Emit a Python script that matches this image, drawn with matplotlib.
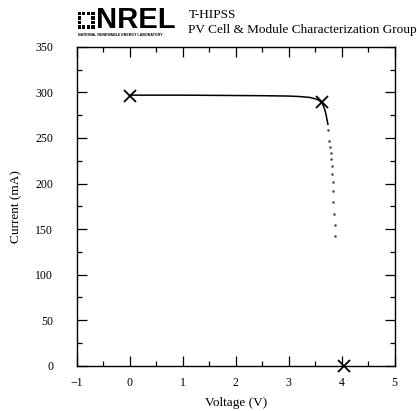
import matplotlib.pyplot as plt
from matplotlib.ticker import MultipleLocator
from matplotlib.patches import Rectangle

# I-V curve (dense part, drawn as a line)
curve_v = [0.0, 0.5, 1.0, 1.5, 2.0, 2.5, 3.0, 3.2, 3.4, 3.5, 3.55, 3.6, 3.64, 3.67, 3.70, 3.72, 3.74]
curve_i = [297, 297, 297, 296.8, 296.6, 296.4, 296, 295.5, 294.5, 293, 292, 290, 287, 283, 277, 271, 265]

# sparse tail of measured points
tail_v = [3.75, 3.76, 3.77, 3.79, 3.80, 3.81, 3.82, 3.83, 3.84, 3.84, 3.85, 3.87, 3.88]
tail_i = [259, 247, 240, 233, 227, 219, 211, 202, 192, 180, 167, 155, 142]

# Isc, Pmax, Voc
key_v = [0.0, 3.62, 4.04]
key_i = [296, 289, 0]

serif = ["Liberation Serif", "DejaVu Serif"]

fig = plt.figure(figsize=(4.17, 4.11), dpi=100)
ax = fig.add_axes([0.184, 0.110, 0.7625, 0.776])

ax.plot(curve_v, curve_i, color="black", lw=1.1)
ax.plot(tail_v, tail_i, ls="none", marker=".", ms=1.8, color="#555555")
ax.plot(key_v, key_i, ls="none", marker="x", ms=9, mew=1.3, color="black", clip_on=False)

ax.set_xlim(-1, 5)
ax.set_ylim(0, 350)
ax.xaxis.set_major_locator(MultipleLocator(1))
ax.xaxis.set_minor_locator(MultipleLocator(0.5))
ax.yaxis.set_major_locator(MultipleLocator(50))
ax.yaxis.set_minor_locator(MultipleLocator(25))
ax.tick_params(which="both", direction="in", top=True, right=True, width=0.9, colors="black")
ax.tick_params(which="major", length=7)
ax.tick_params(which="minor", length=3.5)
ax.tick_params(axis="x", pad=8)
ax.tick_params(axis="y", pad=17)
for lab in ax.get_xticklabels() + ax.get_yticklabels():
    lab.set_family(serif)
    lab.set_fontsize(8.5)
for s in ax.spines.values():
    s.set_linewidth(1.0)

ax.set_xlabel("Voltage (V)", family=serif, fontsize=9.5, labelpad=6)
ax.set_ylabel("Current (mA)", family=serif, fontsize=9.5, labelpad=9)

# header: NREL logo and group name
fig.text(0.230, 0.951, "NREL", family=["Liberation Sans", "DejaVu Sans"], fontweight="bold",
         fontsize=21, va="center", ha="left")
fig.text(0.186, 0.914, "NATIONAL RENEWABLE ENERGY LABORATORY", family=["Liberation Sans", "DejaVu Sans"],
         fontweight="bold", fontsize=2.6, va="center", ha="left")
# small square-grid sun symbol
cells = [(0, 1), (0, 2), (1, 0), (1, 3), (2, 0), (2, 3), (3, 1), (3, 2), (0, 0), (0, 3), (3, 0), (3, 3)]
for r, c in cells:
    fig.patches.append(Rectangle((0.186 + c * 0.011, 0.930 + r * 0.011), 0.008, 0.008,
                                 transform=fig.transFigure, color="black", lw=0))
fig.text(0.452, 0.964, "T-HIPSS", family=serif, fontsize=9.5, va="center", ha="left")
fig.text(0.452, 0.926, "PV Cell & Module Characterization Group", family=serif, fontsize=9.5,
         va="center", ha="left")

fig.savefig("out.png", dpi=100)
